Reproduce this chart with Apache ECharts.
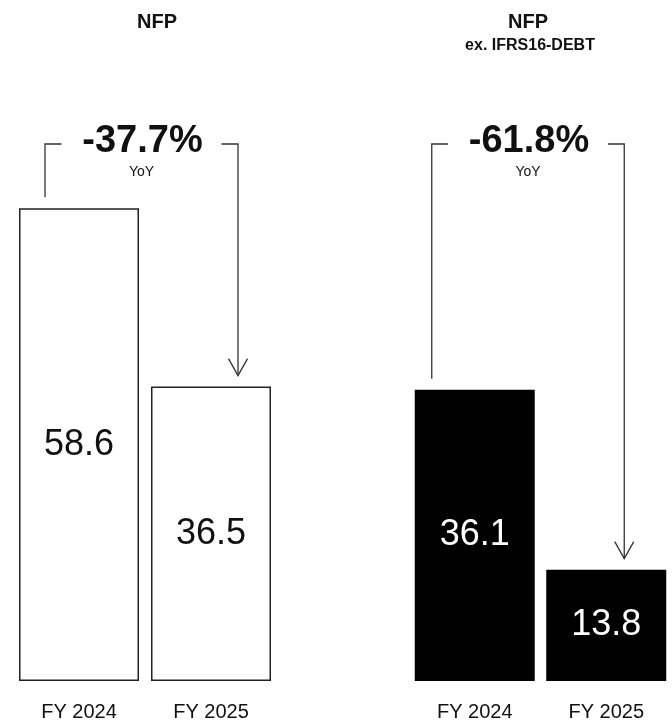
<!DOCTYPE html>
<html>
<head>
<meta charset="utf-8">
<script src="https://cdn.jsdelivr.net/npm/echarts@6/dist/echarts.min.js"></script>
<style>
html,body{margin:0;padding:0;background:#fff;}
#c{width:672px;height:724px;}
</style>
</head>
<body>
<div id="c"></div>
<script>
// ---- data ----
var categories = ['FY 2024', 'FY 2025'];
var nfpValues = [58.6, 36.5];
var nfpExValues = [36.1, 13.8];
var yoyLabels = ['-37.7%', '-61.8%'];
var yoyCaption = 'YoY';
var panelTitles = ['NFP', 'NFP'];
var panelSubtitles = ['', 'ex. IFRS16-DEBT'];

// ---- style config ----
var FONT = '"Liberation Sans", Arial, sans-serif';
var LINE = '#333';
var bracketCfg = [
  { leftOff: -34, rightOff: 27 },
  { leftOff: -43, rightOff: 18 }
];

function makeBracket(cfgIdx, label) {
  var cfg = bracketCfg[cfgIdx];
  return function (params, api) {
    var p0 = api.coord([api.value(0), api.value(1)]);
    var p1 = api.coord([api.value(2), api.value(3)]);
    var topY = params.coordSys.y - 53;
    var x0 = p0[0] + cfg.leftOff;
    var x1 = p1[0] + cfg.rightOff;
    var cx = (x0 + x1) / 2;
    var half = 80;
    var tip = p1[1] - 11;
    var lineStyle = { stroke: LINE, lineWidth: 1.3, fill: null };
    return {
      type: 'group',
      children: [
        { type: 'polyline', shape: { points: [[x0, p0[1] - 11], [x0, topY], [cx - half, topY]] }, style: lineStyle },
        { type: 'polyline', shape: { points: [[cx + half, topY], [x1, topY], [x1, tip]] }, style: lineStyle },
        { type: 'polyline', shape: { points: [[x1 - 9.5, tip - 17], [x1, tip], [x1 + 9.5, tip - 17]] }, style: lineStyle },
        { type: 'text', style: { text: label, x: cx + 1, y: topY - 2, align: 'center', verticalAlign: 'middle', font: 'bold 38px ' + FONT, fill: '#111' } },
        { type: 'text', style: { text: yoyCaption, x: cx, y: topY + 28, align: 'center', verticalAlign: 'middle', font: '14px ' + FONT, fill: '#111' } }
      ]
    };
  };
}

var chart = echarts.init(document.getElementById('c'), null, { renderer: 'canvas' });

var gridCommon = { top: 197, bottom: 43, width: 264 };

chart.setOption({
  backgroundColor: '#fff',
  animation: false,
  title: [
    { text: panelTitles[0], left: 157, top: 12, textAlign: 'center', padding: 0,
      textStyle: { fontFamily: FONT, fontSize: 20, fontWeight: 'bold', color: '#111' } },
    { text: panelTitles[1], left: 528, top: 12, textAlign: 'center', padding: 0,
      textStyle: { fontFamily: FONT, fontSize: 20, fontWeight: 'bold', color: '#111' } },
    { text: panelSubtitles[1], left: 530, top: 38, textAlign: 'center', padding: 0,
      textStyle: { fontFamily: FONT, fontSize: 16, fontWeight: 'bold', color: '#111' } }
  ],
  grid: [
    Object.assign({ left: 13 }, gridCommon),
    Object.assign({ left: 409 }, gridCommon)
  ],
  xAxis: [0, 1].map(function (i) {
    return {
      type: 'category', gridIndex: i, data: categories,
      axisLine: { show: false }, axisTick: { show: false },
      axisLabel: { margin: 21, fontFamily: FONT, fontSize: 20, color: '#111' }
    };
  }),
  yAxis: [0, 1].map(function (i) {
    return { type: 'value', gridIndex: i, min: 0, max: 60, show: false, splitLine: { show: false } };
  }),
  series: [
    {
      type: 'bar', xAxisIndex: 0, yAxisIndex: 0, data: nfpValues, barWidth: 120, barGap: '0%',
      itemStyle: { color: '#fff', borderColor: '#222', borderWidth: 1.5 },
      label: { show: true, position: 'inside', fontFamily: FONT, fontSize: 36, color: '#111' },
      emphasis: { disabled: true }
    },
    {
      type: 'bar', xAxisIndex: 1, yAxisIndex: 1, data: nfpExValues, barWidth: 120,
      itemStyle: { color: '#000' },
      label: { show: true, position: 'inside', fontFamily: FONT, fontSize: 36, color: '#fff' },
      emphasis: { disabled: true }
    },
    {
      type: 'custom', xAxisIndex: 0, yAxisIndex: 0, clip: false, silent: true,
      data: [[0, nfpValues[0], 1, nfpValues[1]]],
      renderItem: makeBracket(0, yoyLabels[0])
    },
    {
      type: 'custom', xAxisIndex: 1, yAxisIndex: 1, clip: false, silent: true,
      data: [[0, nfpExValues[0], 1, nfpExValues[1]]],
      renderItem: makeBracket(1, yoyLabels[1])
    }
  ]
});
</script>
</body>
</html>
